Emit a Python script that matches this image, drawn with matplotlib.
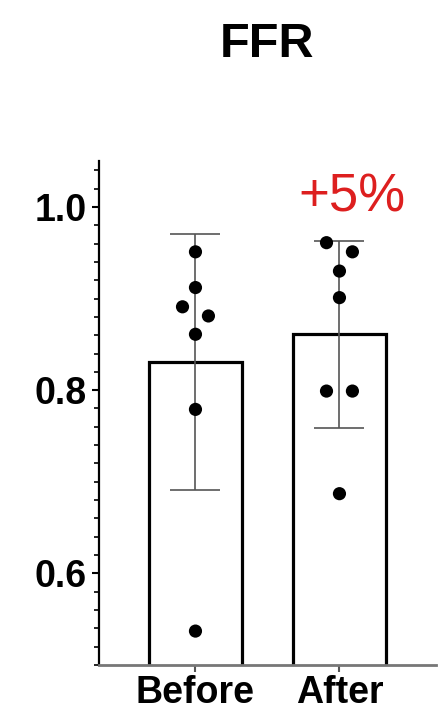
import numpy as np
import matplotlib.pyplot as plt

plt.rcParams['font.family'] = ['Liberation Sans', 'DejaVu Sans']

groups = ["Before", "After"]
before = [0.951, 0.912, 0.891, 0.881, 0.861, 0.779, 0.537]
after = [0.961, 0.951, 0.930, 0.901, 0.799, 0.799, 0.687]
change_label = "+5%"

# horizontal spread of the dots inside each bar
before_dx = [0, 0, -0.09, 0.09, 0, 0, 0]
after_dx = [-0.09, 0.09, 0, 0, -0.09, 0.09, 0]

samples = [np.array(before), np.array(after)]
means = [s.mean() for s in samples]
sds = [s.std(ddof=1) for s in samples]
xpos = np.arange(len(groups))

fig = plt.figure(figsize=(4.39, 7.21), dpi=100)
ax = fig.add_axes([0.2255, 0.0777, 0.7675, 0.6988])

ax.bar(xpos, means, width=0.64, facecolor='white', edgecolor='black',
       linewidth=2.3, zorder=1)
ax.errorbar(xpos, means, yerr=sds, fmt='none', ecolor='#555555',
            elinewidth=1.2, capsize=18, capthick=1.2, zorder=2)

for i, (vals, dx) in enumerate(zip(samples, [before_dx, after_dx])):
    ax.scatter(xpos[i] + np.array(dx), vals, s=90, color='black',
               edgecolor='none', zorder=3)

ax.set_xlim(-0.67, 1.67)
ax.set_ylim(0.5, 1.05)
ax.set_yticks([0.6, 0.8, 1.0])
ax.set_yticks(np.arange(0.5, 1.051, 0.02), minor=True)
ax.set_yticklabels(["0.6", "0.8", "1.0"], fontsize=27, fontweight='bold')
ax.set_xticks(xpos)
ax.set_xticklabels(groups, fontsize=27, fontweight='bold')

ax.spines['top'].set_visible(False)
ax.spines['right'].set_visible(False)
ax.spines['left'].set_linewidth(1.6)
ax.spines['bottom'].set_linewidth(2.0)
ax.spines['bottom'].set_color('#777777')
ax.tick_params(axis='y', which='major', length=5, width=1.5, pad=4)
ax.tick_params(axis='y', which='minor', length=3.5, width=1.2)
ax.tick_params(axis='x', length=5, width=1.5, color='#555555', pad=2)

ax.set_title("FFR", fontsize=35, fontweight='bold', pad=75)
ax.text(xpos[1] + 0.09, 1.01, change_label, color='#dd1f1f', fontsize=38,
        ha='center', va='center')

fig.savefig("out.png", dpi=100)
